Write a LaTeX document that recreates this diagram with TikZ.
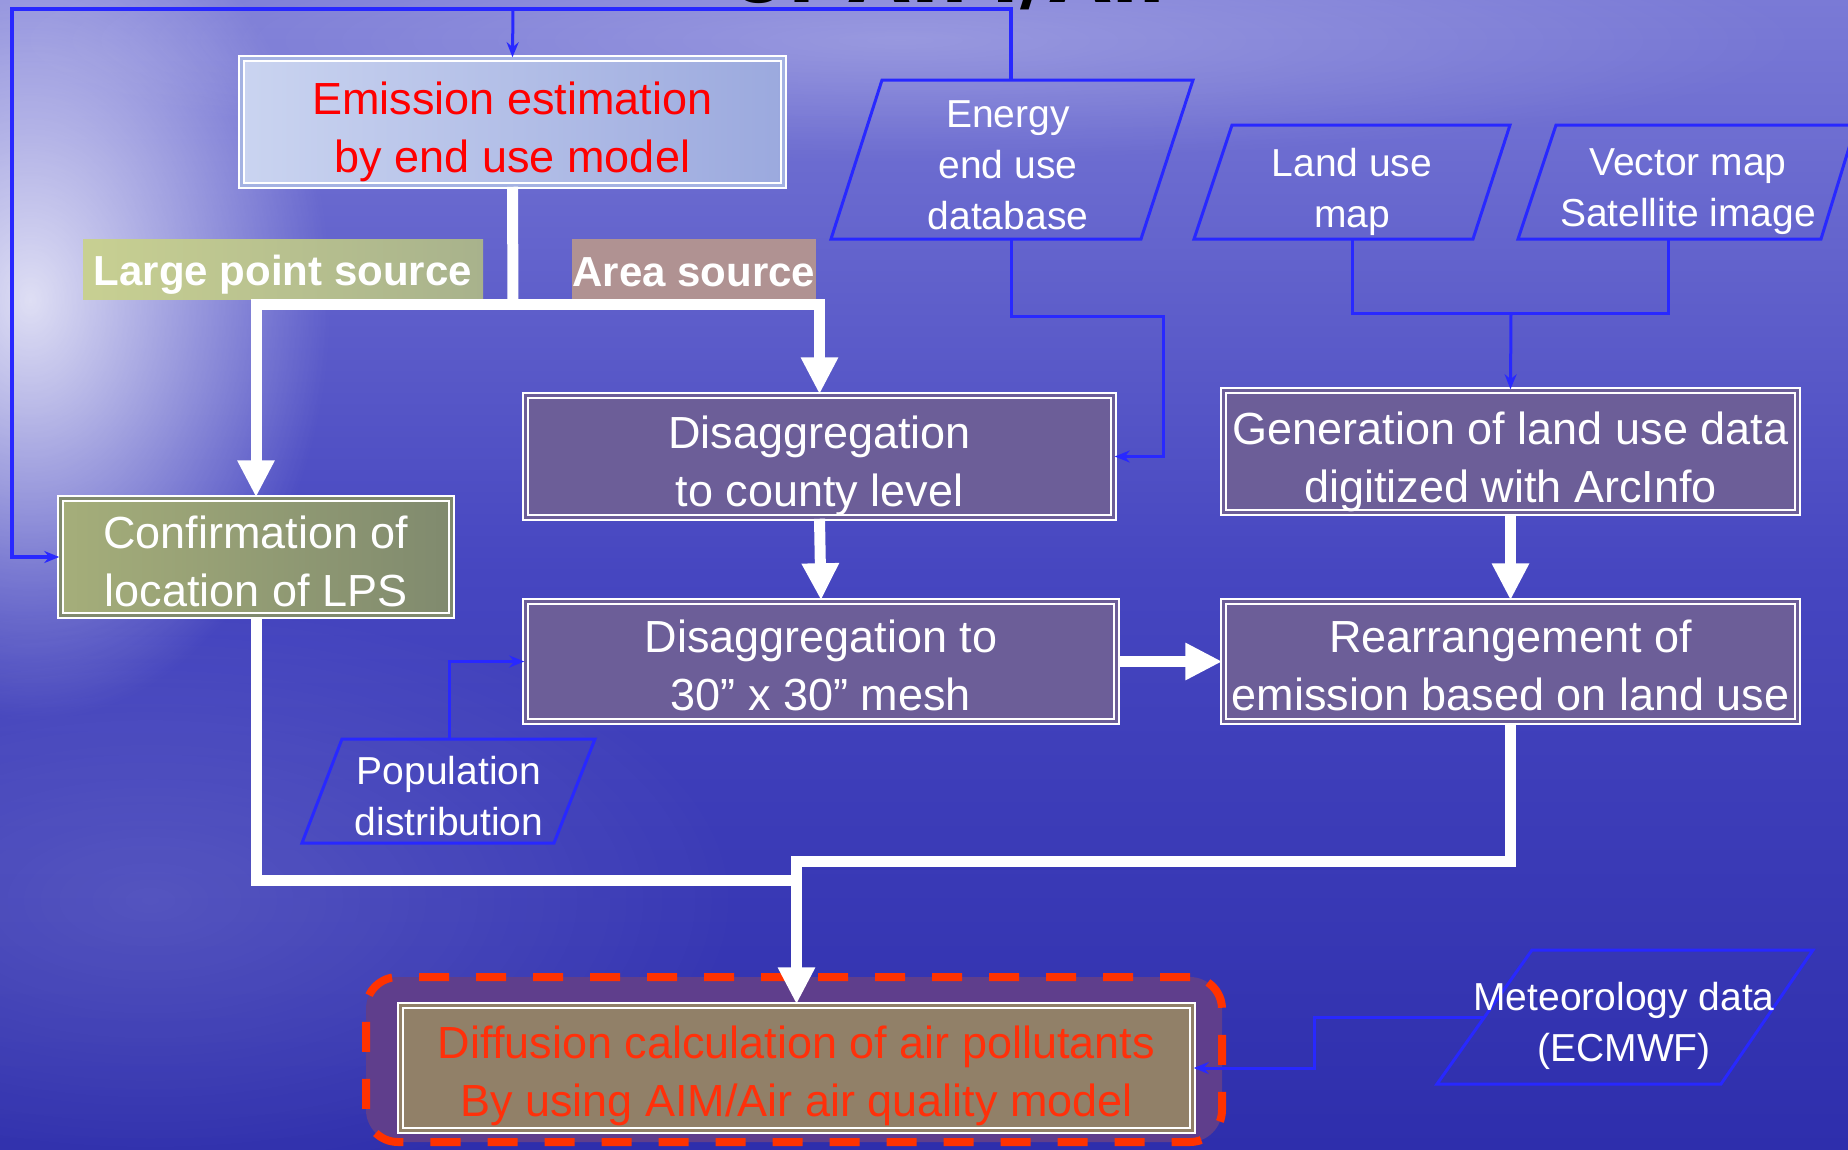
\documentclass[tikz,border=0pt]{standalone}
\usepackage{fontspec}
\setmainfont{Liberation Sans}
\newfontfamily\titlefont{DejaVu Sans}
\usetikzlibrary{arrows.meta,fadings}

\definecolor{bgtop}{RGB}{122,122,214}
\definecolor{bgmid}{RGB}{70,70,192}
\definecolor{bgbot}{RGB}{46,46,172}
\definecolor{bline}{RGB}{40,40,255}
\definecolor{purp}{RGB}{108,94,152}
\definecolor{emisL}{RGB}{202,212,240}
\definecolor{emisR}{RGB}{155,169,222}
\definecolor{confL}{RGB}{165,174,122}
\definecolor{confR}{RGB}{128,138,110}
\definecolor{lpsL}{RGB}{200,208,146}
\definecolor{lpsR}{RGB}{168,178,140}
\definecolor{areac}{RGB}{176,146,146}
\definecolor{diffin}{RGB}{145,128,104}
\definecolor{diffout}{RGB}{95,62,140}
\definecolor{dashred}{RGB}{255,50,0}
\definecolor{diffred}{RGB}{255,48,10}

\tikzfading[name=glowfade, inner color=transparent!0, outer color=transparent!100]

\begin{document}
\begin{tikzpicture}[x=1pt,y=-1pt,
  every node/.style={inner sep=0pt, align=center, text=white},
  boxtxt/.style={font=\fontsize{45}{58}\selectfont},
  dbox/.style={draw=white, line width=2.5pt, double distance=2.5pt},
  lbl/.style={font=\bfseries\fontsize{42}{50}\selectfont},
  ptxt/.style={font=\fontsize{39}{51}\selectfont},
  para/.style={draw=bline, line width=3pt, line join=miter},
  bl/.style={draw=bline, line width=3pt},
  blarrow/.style={bl, -{Stealth[length=15pt,width=12pt]}},
  wline/.style={draw=white, line width=11pt, line join=miter},
  warrow/.style={wline, -{Triangle[length=37pt,width=35pt]}}
]
\useasboundingbox (0,0) rectangle (1848,1149);

% background
\fill[top color=bgtop, bottom color=bgbot, middle color=bgmid] (0,0) rectangle (1848,1149);
\fill[white, opacity=0.8, path fading=glowfade] (30,300) ellipse [x radius=300pt, y radius=420pt];
\fill[white, opacity=0.14, path fading=glowfade] (150,900) ellipse [x radius=600pt, y radius=300pt];
\fill[white, opacity=0.25, path fading=glowfade] (900,40) ellipse [x radius=900pt, y radius=120pt];

% partial title
\begin{scope}
\clip (0,0) rectangle (1848,1149);
\node[anchor=base west, text=black, font=\titlefont\bfseries\fontsize{80}{90}\selectfont] (title) at (731,2) {of AIM/Air};
\end{scope}

% diffusion frame
\node[draw=dashred, fill=diffout, line width=8pt, dash pattern=on 30pt off 27pt,
      rounded corners=32pt, minimum width=856pt, minimum height=165pt] (frame) at (794,1059.5) {};

% boxes
\node[dbox, left color=emisL, right color=emisR, double=emisR!80!emisL,
      minimum width=542pt, minimum height=127pt] (emis) at (512.5,122) {};
\node[lbl, left color=lpsL, right color=lpsR, minimum width=400pt, minimum height=60pt] (lps) at (283,269) {};
\node[lbl, fill=areac, minimum width=244pt, minimum height=60pt] (area) at (694,269) {};
\node[dbox, fill=purp, double=purp, minimum width=588pt, minimum height=122pt] (county) at (819.5,456.5) {};
\node[dbox, left color=confL, right color=confR, double=confR, minimum width=391pt, minimum height=117pt] (conf) at (256,557) {};
\node[dbox, fill=purp, double=purp, minimum width=574pt, minimum height=122pt] (gen) at (1510.5,451.5) {};
\node[dbox, fill=purp, double=purp, minimum width=591pt, minimum height=120pt] (mesh) at (821,661.5) {};
\node[dbox, fill=purp, double=purp, minimum width=574pt, minimum height=120pt] (rearr) at (1510.5,661.5) {};
\node[dbox, fill=diffin, double=diffin, minimum width=792pt, minimum height=125pt] (diff) at (796.5,1068) {};

% box texts
\node[boxtxt, text=red] (emisT) at ([yshift=-10pt]emis.center) {Emission estimation\\by end use model};
\node[lbl] (lpsT) at ([yshift=-6pt]lps.center) {Large point source};
\node[lbl] (areaT) at ([yshift=-3pt]area.center) {Area source};
\node[boxtxt] (countyT) at ([yshift=-9pt]county.center) {Disaggregation\\to county level};
\node[boxtxt] (confT) at ([yshift=-4pt]conf.center) {Confirmation of\\location of LPS};
\node[boxtxt] (genT) at ([yshift=-10pt]gen.center) {Generation of land use data\\digitized with ArcInfo};
\node[boxtxt] (meshT) at ([yshift=-4pt]mesh.center) {Disaggregation to\\30” x 30” mesh};
\node[boxtxt] (rearrT) at ([yshift=-4pt]rearr.center) {Rearrangement of\\emission based on land use};
\node[boxtxt, text=diffred] (diffT) at ([yshift=-8pt]diff.center) {Diffusion calculation of air pollutants\\By using AIM/Air air quality model};

% parallelograms (data sources)
\draw[para] (882,80) -- (1193,80) -- (1141,239) -- (831,239) -- cycle;
\draw[para] (1232,125) -- (1510,125) -- (1473,239) -- (1194,239) -- cycle;
\draw[para] (1556,125) -- (1856,125) -- (1821,239) -- (1518,239) -- cycle;
\draw[para] (342,739) -- (595,739) -- (554,843) -- (302,843) -- cycle;
\draw[para] (1532,950) -- (1813,950) -- (1721,1084) -- (1437,1084) -- cycle;
\node[ptxt] (energy) at (1008,165) {Energy\\end use\\database};
\node[ptxt] (landuse) at (1352,192) {Land use\\map};
\node[ptxt] (vector) at (1688,192) {Vector map\\Satellite image};
\node[ptxt] (pop) at (449,796) {Population\\distribution};
\node[ptxt] (meteo) at (1624,1026) {Meteorology data\\(ECMWF)};

% connector end points on the parallelograms
\coordinate (etop) at (1011,80);
\coordinate (ebot) at (1011,239);
\coordinate (lbot) at (1352,239);
\coordinate (vbot) at (1668,239);
\coordinate (ptop) at (449,739);
\coordinate (mleft) at (1484,1017);
\coordinate (topbranch) at (513,9);
\coordinate (lvjoin) at (1511,313);
\coordinate (split) at (513,304);
\coordinate (jr) at (796.5,861);
\coordinate (jl) at (796.5,880);

% blue connectors
\draw[blarrow, line width=3.5pt] (etop) -- (1011,9) -- (12,9) |- (conf.west);
\draw[blarrow] (topbranch) -- (emis.north);
\draw[blarrow] (ebot) |- (1163,316) |- (county.east);
\draw[bl] (lbot) |- (lvjoin);
\draw[bl] (vbot) |- (lvjoin);
\draw[blarrow] (lvjoin) -- (gen.north);
\draw[blarrow] (ptop) |- (mesh.west);
\draw[blarrow] (mleft) -- (1314,1017) |- (diff.east);

% white flow arrows
\draw[wline] (emis.south) -- (split);
\draw[warrow] (split) -| (conf.north);
\draw[warrow] (split) -| (county.north);
\draw[warrow] (county.south) -- (mesh.north);
\draw[warrow] (gen.south) -- (rearr.north);
\draw[warrow] (mesh.east) -- (rearr.west);
\draw[wline] (conf.south) |- (jl);
\draw[warrow] (rearr.south) |- (jr) -- (diff.north);
\end{tikzpicture}
\end{document}
